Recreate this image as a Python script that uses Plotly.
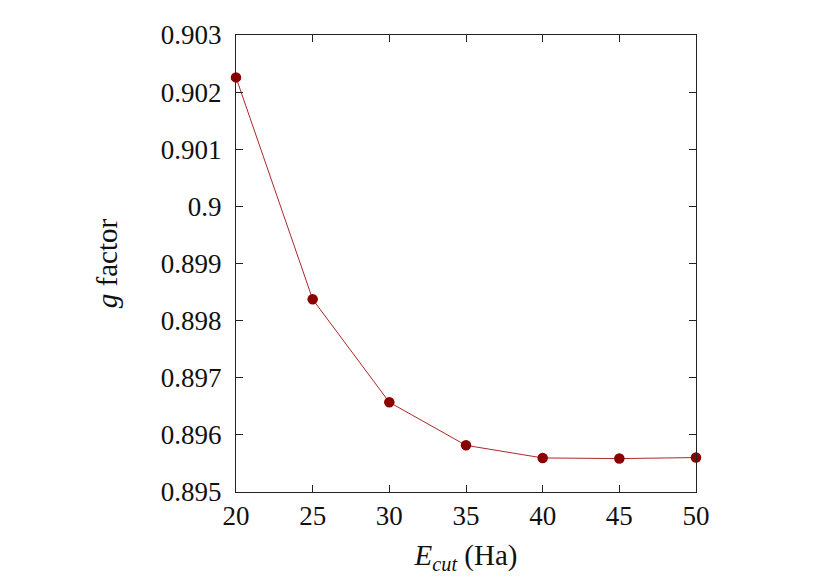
import plotly.graph_objects as go

# ================= DATA =================
ecut = [20, 25, 30, 35, 40, 45, 50]
g_factor = [0.902258, 0.898373, 0.896571, 0.895817, 0.895596, 0.895585, 0.895603]

y_ticks = [0.895, 0.896, 0.897, 0.898, 0.899, 0.9, 0.901, 0.902, 0.903]
y_tick_labels = ["0.895", "0.896", "0.897", "0.898", "0.899", "0.9", "0.901", "0.902", "0.903"]
x_ticks = [20, 25, 30, 35, 40, 45, 50]

FONT = "Liberation Serif"

fig = go.Figure()

fig.add_trace(
    go.Scatter(
        x=ecut,
        y=g_factor,
        mode="lines+markers",
        line=dict(color="#a01010", width=0.9),
        marker=dict(color="#8b0000", size=10.5),
        cliponaxis=False,
        showlegend=False,
    )
)

axis_common = dict(
    showline=True,
    linecolor="#222222",
    linewidth=1,
    mirror="ticks",
    ticks="inside",
    ticklen=7,
    tickcolor="#222222",
    showgrid=False,
    zeroline=False,
    tickfont=dict(family=FONT, size=27, color="#111111"),
)

# page body adds an 8px offset, margins compensate for it
fig.update_layout(
    width=830,
    height=581,
    paper_bgcolor="white",
    plot_bgcolor="white",
    margin=dict(l=228, r=142, t=25, b=97),
    font=dict(family=FONT, color="#111111"),
    xaxis=dict(
        range=[20, 50],
        tickvals=x_ticks,
        ticklabelstandoff=0,
        title=dict(
            text="<i>E</i><sub><i>cut</i></sub> (Ha)",
            font=dict(family=FONT, size=29),
            standoff=14,
        ),
        **axis_common,
    ),
    yaxis=dict(
        range=[0.895, 0.903],
        tickvals=y_ticks,
        ticktext=y_tick_labels,
        ticklabelstandoff=8,
        title=dict(
            text="<i>g</i> factor",
            font=dict(family=FONT, size=29),
            standoff=34,
        ),
        **axis_common,
    ),
)

fig.write_html("out.html")
